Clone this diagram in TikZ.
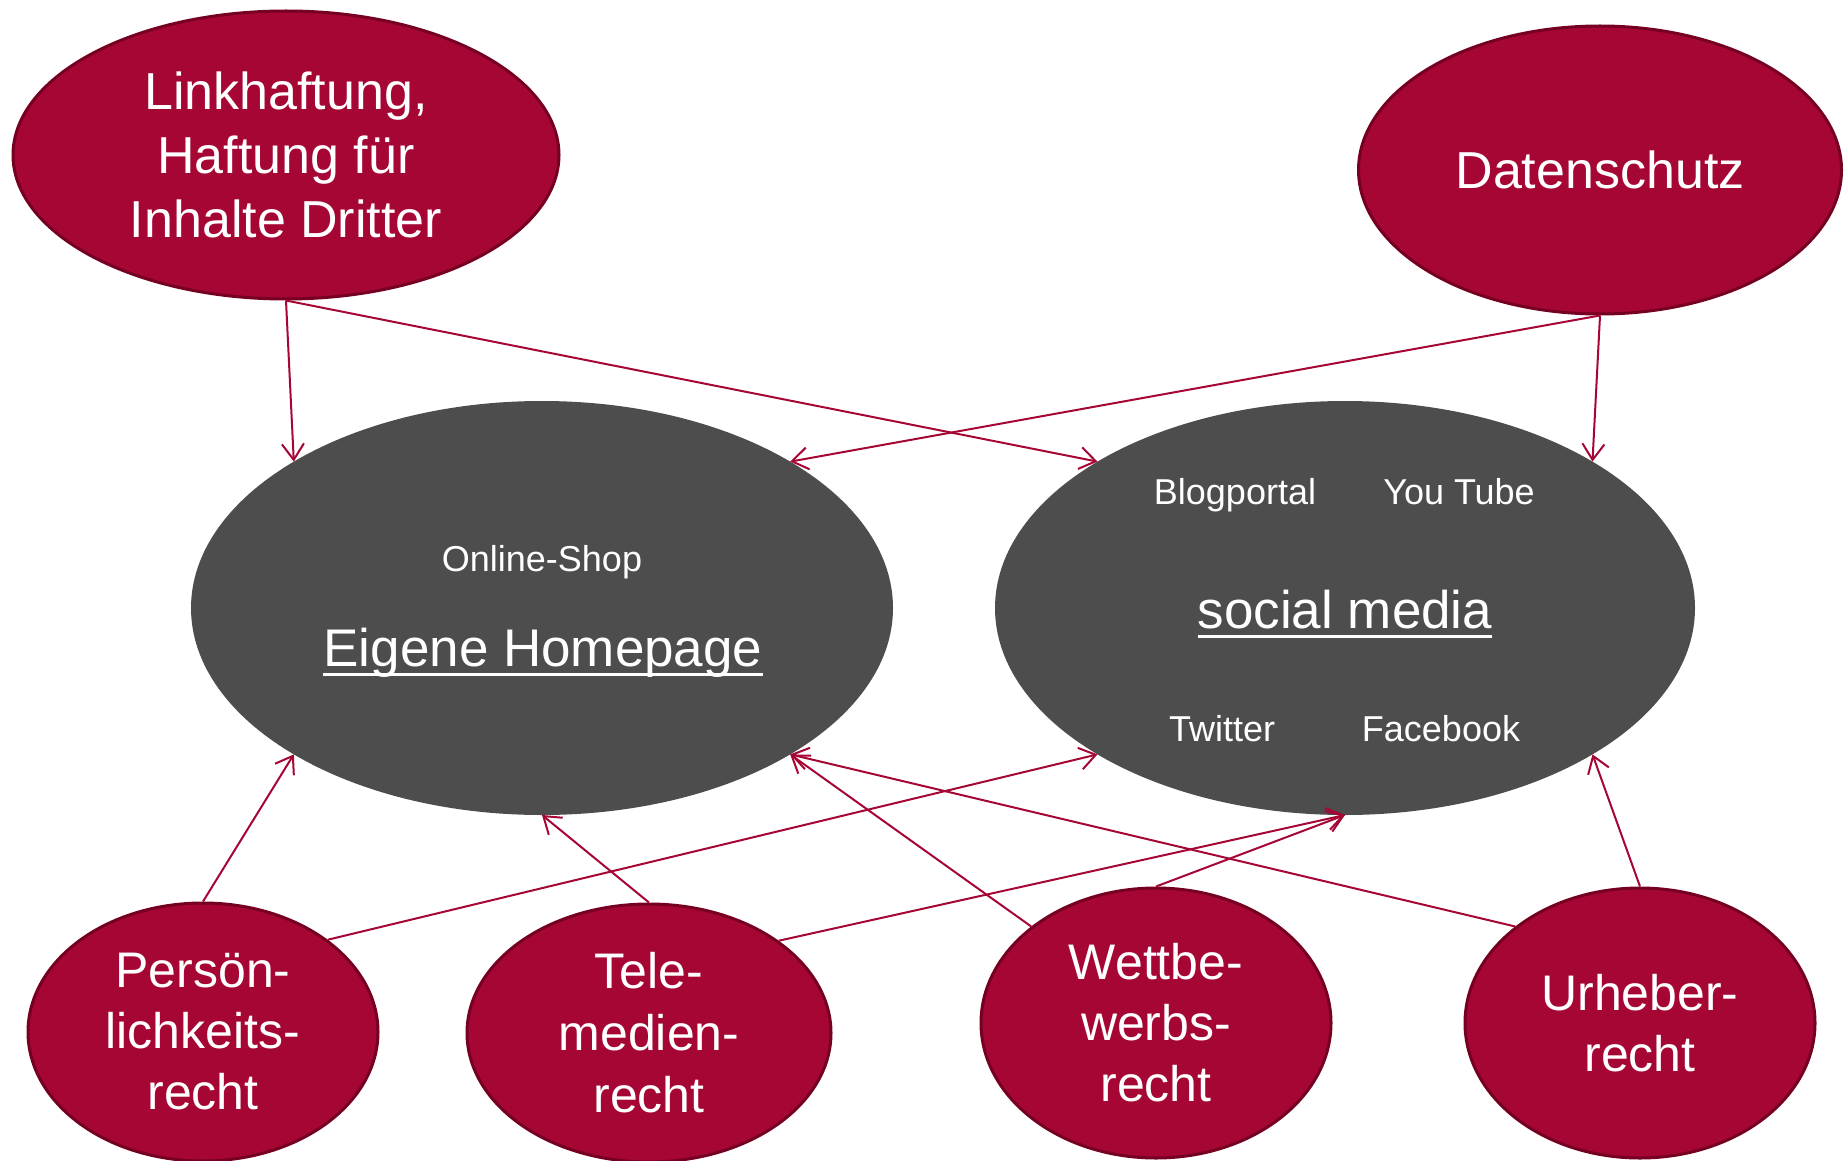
\documentclass[tikz,border=0pt]{standalone}
\usepackage{fontspec}
\setmainfont{Liberation Sans}
\usetikzlibrary{shapes.geometric,arrows.meta}
\definecolor{lawred}{RGB}{166,6,52}
\definecolor{lawedge}{RGB}{118,0,34}
\definecolor{hubgray}{RGB}{77,77,77}
% underlined title with a heavier rule than \underline gives
\newcommand{\ultext}[1]{\setbox0\hbox{#1}\rlap{\rule[-10pt]{\wd0}{3.5pt}}\box0}
\begin{document}
\begin{tikzpicture}[x=1pt,y=-1pt,
  topic/.style={ellipse, draw=lawedge, line width=3pt, fill=lawred, text=white,
    align=center, inner sep=0pt},
  hub/.style={ellipse, fill=hubgray, inner sep=0pt, outer sep=0pt},
  hubtext/.style={text=white, anchor=base, inner sep=0pt},
  small/.style={font=\fontsize{36}{43}\selectfont},
  big/.style={font=\fontsize{53}{64}\selectfont},
  link/.style={draw=lawred, line width=2pt, -{Straight Barb[length=16pt,width=22pt]}}
]
\useasboundingbox (0,0) rectangle (1844,1161);

% the two central areas
\node[hub, minimum width=702pt, minimum height=414pt] (hp) at (542,608) {};
\node[hub, minimum width=700pt, minimum height=414pt] (sm) at (1345,608) {};

\node[hubtext, small] (shop) at (542,571) {Online-Shop};
\node[hubtext, big] (hptitle) at (543,666) {\ultext{Eigene Homepage}};

\node[hubtext, small] (blog) at (1235,504) {Blogportal};
\node[hubtext, small] (yt) at (1459,504) {You Tube};
\node[hubtext, big] (smtitle) at (1345,628) {\ultext{social media}};
\node[hubtext, small] (tw) at (1222,741) {Twitter};
\node[hubtext, small] (fb) at (1441,741) {Facebook};

% legal topics
\node[topic, minimum width=546pt, minimum height=288pt, font=\fontsize{52}{64}\selectfont]
  (lh) at (286,155) {Linkhaftung,\\Haftung für\\Inhalte Dritter};
\node[topic, minimum width=483pt, minimum height=288pt, font=\fontsize{52}{64}\selectfont]
  (ds) at (1600,170) {Datenschutz};
\node[topic, minimum width=350pt, minimum height=258pt, font=\fontsize{50}{61}\selectfont]
  (pr) at (203,1032) {Persön-\\lichkeits-\\recht};
\node[topic, minimum width=364pt, minimum height=258pt, font=\fontsize{50}{62}\selectfont]
  (tm) at (649,1033) {Tele-\\medien-\\recht};
\node[topic, minimum width=350pt, minimum height=270pt, font=\fontsize{50}{61}\selectfont]
  (wb) at (1156,1023) {Wettbe-\\werbs-\\recht};
\node[topic, minimum width=350pt, minimum height=270pt, font=\fontsize{50}{61}\selectfont]
  (ur) at (1640,1023) {Urheber-\\recht};

% connections
\draw[link] (lh.south) -- (hp.north west);
\draw[link] (lh.south) -- (sm.north west);
\draw[link] (ds.south) -- (hp.north east);
\draw[link] (ds.south) -- (sm.north east);
\draw[link] (pr.north) -- (hp.south west);
\draw[link] (pr.north east) -- (sm.south west);
\draw[link] (tm.north) -- (hp.south);
\draw[link] (tm.north east) -- (sm.south);
\draw[link] (wb.north) -- (sm.south);
\draw[link] (wb.north west) -- (hp.south east);
\draw[link] (ur.north west) -- (hp.south east);
\draw[link] (ur.north) -- (sm.south east);
\end{tikzpicture}
\end{document}
